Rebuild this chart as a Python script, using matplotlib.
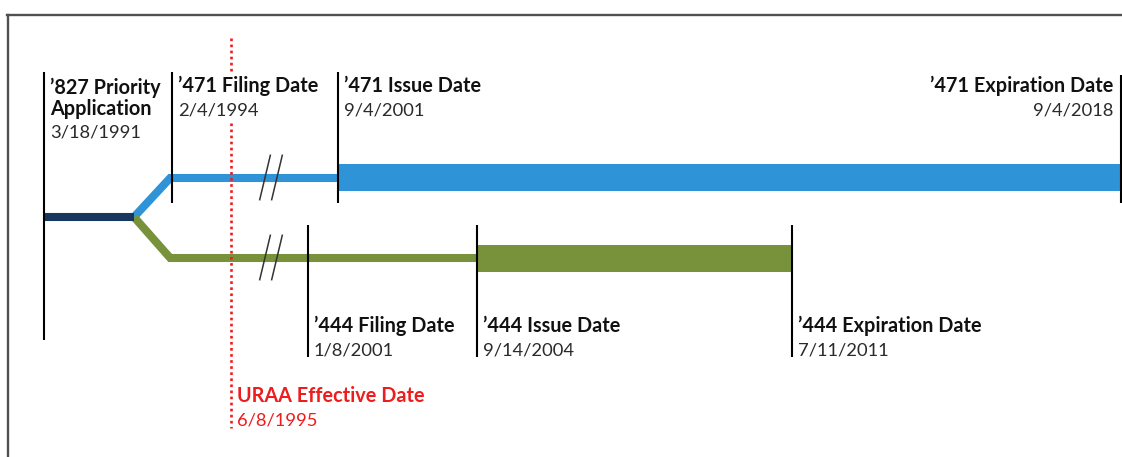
import numpy as np
import pandas as pd
import matplotlib
matplotlib.use("Agg")
import matplotlib.pyplot as plt
from matplotlib.path import Path
from matplotlib.transforms import offset_copy

plt.rcParams['font.family'] = ['Lato', 'DejaVu Sans']

# events on the upper ('471) branch
top_titles = ['\u2019827 Priority\nApplication', '\u2019471 Filing Date',
              '\u2019471 Issue Date', '\u2019471 Expiration Date']
top_dates = ['3/18/1991', '2/4/1994', '9/4/2001', '9/4/2018']

# events on the lower ('444) branch
low_titles = ['\u2019444 Filing Date', '\u2019444 Issue Date', '\u2019444 Expiration Date']
low_dates = ['1/8/2001', '9/14/2004', '7/11/2011']

uraa_title = 'URAA Effective Date'
uraa_date = '6/8/1995'


def to_year(s):
    d = pd.to_datetime(pd.Series(s), format='%m/%d/%Y')
    return (d.dt.year + (d.dt.dayofyear - 0.5) / 365.25).to_numpy()


top_x = to_year(top_dates)
low_x = to_year(low_dates)
uraa_x = to_year([uraa_date])[0]
prio_x, filing471, issue471, exp471 = top_x
filing444, issue444, exp444 = low_x

# timeline is drawn to scale on each side of a break (1996 -> 2000)
L0, LPX, LK = 1991.21, 44.5, 44.1
R0, RPX, RK = 2001.02, 307.5, 46.1
BREAK_PX = 270.0


def fwd(t):
    t = np.asarray(t, float)
    left = LPX + (t - L0) * LK
    right = RPX + (t - R0) * RK
    return np.where(left < BREAK_PX, left, np.maximum(right, BREAK_PX))


def inv(p):
    p = np.asarray(p, float)
    return np.where(p <= BREAK_PX, L0 + (p - LPX) / LK, R0 + (p - RPX) / RK)


break_year = 1998.0
branch_year = 1993.24
elbow_year = 1994.06

NAVY, BLUE, GREEN, RED = '#17375e', '#2f93d7', '#77923b', '#ee1c1c'

fig = plt.figure(figsize=(11.22, 4.57), dpi=100)
ax = fig.add_axes([0, 0, 1, 1])
ax.set_xscale('function', functions=(fwd, inv))
ax.set_xlim(float(inv(0)), float(inv(1122)))
ax.set_ylim(457, 0)
ax.axis('off')

# frame (top and left edge)
fig.add_artist(plt.Line2D([7 / 1122, 1], [1 - 15 / 457] * 2, color='#505050', lw=1.7))
fig.add_artist(plt.Line2D([8 / 1122] * 2, [0, 1 - 15 / 457], color='#505050', lw=1.7))

y_top, y_mid, y_low = 178, 217, 258
thin = 5.8

# branches
ax.plot([branch_year, elbow_year, issue471], [y_mid, y_top, y_top],
        color=BLUE, lw=thin, solid_joinstyle='miter', solid_capstyle='butt')
ax.plot([branch_year, elbow_year, issue444], [y_mid, y_low, y_low],
        color=GREEN, lw=thin, solid_joinstyle='miter', solid_capstyle='butt')
ax.plot([prio_x, branch_year], [y_mid, y_mid], color=NAVY, lw=thin,
        solid_capstyle='butt')

# patent terms
ax.barh(y_top - 0.5, exp471 - issue471 + 0.2, left=issue471, height=27, color=BLUE)
ax.barh(y_low + 0.5, exp444 - issue444, left=issue444, height=27, color=GREEN)

# break marks
brk = Path([(-11, -23), (0, 23), (1, -23), (12, 23)],
           [Path.MOVETO, Path.LINETO, Path.MOVETO, Path.LINETO])
ax.plot([break_year, break_year], [y_top - 1, y_low - 1], ls='none', marker=brk,
        markersize=33, markeredgecolor='#333333', markeredgewidth=1.1,
        markerfacecolor='none')

# event markers
ax.vlines([prio_x], 72, 340, color='black', lw=1.5)
ax.vlines([filing471, issue471], 72, 203, color='black', lw=1.5)
ax.vlines([exp471], 75, 203, color='black', lw=1.5)
ax.vlines(low_x, 225, 357, color='black', lw=1.5)
ax.vlines([uraa_x], 38, 428, color=RED, lw=1.9, linestyles=(0, (1, 1.3)))

fs_t, fs_d = 14.3, 13.2
right_tr = offset_copy(ax.transData, fig=fig, x=6, y=0, units='dots')
left_tr = offset_copy(ax.transData, fig=fig, x=-8, y=0, units='dots')
box = dict(facecolor='white', edgecolor='none', pad=2.5)

# upper labels
for i, (x, t, d) in enumerate(zip(top_x, top_titles, top_dates)):
    base = 115 if '\n' in t else 92
    last = i == len(top_x) - 1
    tr = left_tr if last else right_tr
    ha = 'right' if last else 'left'
    ax.text(x, base, t, transform=tr, ha=ha, va='baseline', fontsize=fs_t,
            fontweight='bold', color='#111111', linespacing=1.08, bbox=box)
    ax.text(x, base + 23, d, transform=tr, ha=ha, va='baseline', fontsize=fs_d,
            color='#2a2a2a', bbox=box)

# lower labels
for x, t, d in zip(low_x, low_titles, low_dates):
    ax.text(x, 332, t, transform=right_tr, ha='left', va='baseline', fontsize=fs_t,
            fontweight='bold', color='#111111')
    ax.text(x, 356, d, transform=right_tr, ha='left', va='baseline', fontsize=fs_d,
            color='#2a2a2a')

ax.text(uraa_x, 402, uraa_title, transform=right_tr, ha='left', va='baseline',
        fontsize=fs_t, fontweight='bold', color=RED)
ax.text(uraa_x, 425, uraa_date, transform=right_tr, ha='left', va='baseline',
        fontsize=fs_d, color=RED)

fig.savefig('out.png', dpi=100)
